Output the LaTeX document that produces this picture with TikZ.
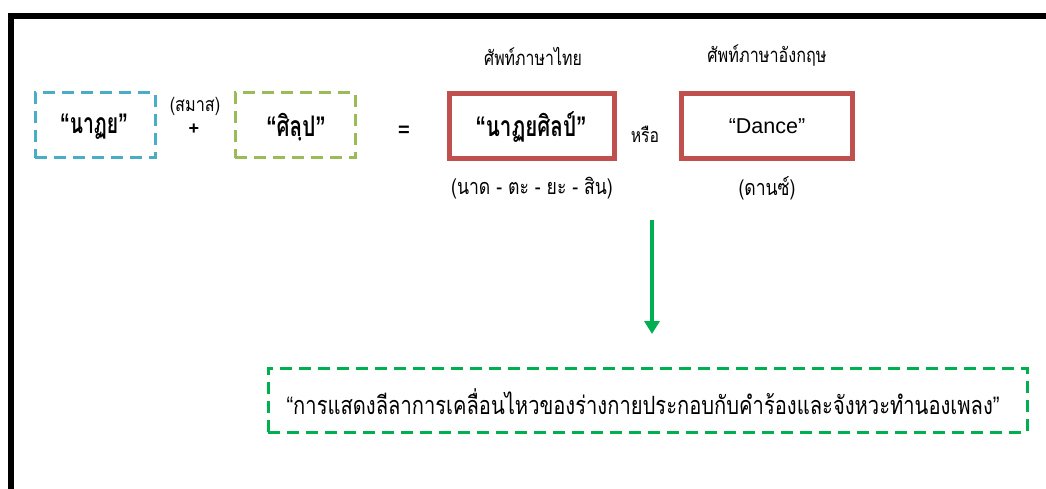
\documentclass[tikz,border=0pt]{standalone}
\usepackage{fontspec}
\setmainfont{Liberation Sans}
\newfontfamily\thai[Script=Thai]{Loma}
\usetikzlibrary{arrows.meta}
\definecolor{aqua}{HTML}{4BACC6}
\definecolor{olive}{HTML}{9BBB59}
\definecolor{brick}{HTML}{C0504D}
\definecolor{leaf}{HTML}{00B050}
% Thai text, stretched to a tall narrow cut
\newcommand\tsc[3]{\scalebox{#1}[#2]{#3}}
\newcommand\tq[1]{“{\thai #1}”}
\tikzset{
  dashbox/.style={draw=#1, line width=3pt, dash pattern=on 12pt off 7pt, minimum height=65pt, inner sep=0pt},
  wordbox/.style={draw=brick, line width=5pt, minimum width=165pt, minimum height=65pt, inner sep=0pt},
  lbl/.style={inner sep=0pt, font=\thai\fontsize{15}{18}\selectfont},
  big/.style={inner sep=0pt, font=\bfseries\fontsize{21}{24}\selectfont}
}
\begin{document}
\begin{tikzpicture}[x=1pt,y=-1pt]
\useasboundingbox (0,0) rectangle (1046,489);
% frame: top and left rules
\draw[line width=6pt] (1046,16) -- (11,16) -- (11,489);
% compound parts
\node[dashbox=aqua, minimum width=120pt] (naty) at (95,125.5) {};
\node[big] at (94,127) {\tsc{0.92}{1.35}{\tq{นาฏย}}};
\node[lbl] (samas) at (195,106) {\tsc{1.08}{1.3}{(สมาส)}};
\node[inner sep=0pt, font=\bfseries\fontsize{18}{20}\selectfont] (plus) at (194,129) {+};
\node[dashbox=olive, minimum width=120pt] (sin) at (295,125.5) {};
\node[big] at (296,127) {\tsc{0.98}{1.35}{\tq{ศิลฺป}}};
\node[inner sep=0pt, font=\bfseries\fontsize{20}{22}\selectfont] (eq) at (404,131) {=};
% resulting words
\node[wordbox] (thw) at (532,126) {};
\node[big] at (531,127) {\tsc{0.98}{1.35}{\tq{นาฏยศิลป์}}};
\node[wordbox, minimum width=171pt] (enw) at (767,126) {};
\node[inner sep=0pt, font=\fontsize{21.5}{24}\selectfont] at (enw) {“Dance”};
\node[lbl] (or) at (645,134) {\tsc{1.05}{1.3}{หรือ}};
\node[lbl] (thl) at (533,56) {\tsc{1.06}{1.35}{ศัพท์ภาษาไทย}};
\node[lbl] (enl) at (767,56) {\tsc{1.08}{1.35}{ศัพท์ภาษาอังกฤษ}};
\node[lbl, font=\thai\fontsize{16}{18}\selectfont] (thr) at (532,188) {\tsc{1.1}{1.35}{(นาด - ตะ - ยะ - สิน)}};
\node[lbl, font=\thai\fontsize{16}{18}\selectfont] (enr) at (767,188) {\tsc{1.1}{1.35}{(ดานซ์)}};
% meaning
\coordinate (atop) at (652,220);
\coordinate (abot) at (652,334);
\draw[draw=leaf, line width=3.5pt, -{Triangle[length=13pt,width=15pt]}] (atop) -- (abot);
\node[dashbox=leaf, minimum width=759pt, minimum height=64pt] (mean) at (647.5,400) {};
\node[inner sep=0pt, font=\fontsize{18}{20}\selectfont] at (643,402) {\tsc{1.12}{1.4}{\tq{การแสดงลีลาการเคลื่อนไหวของร่างกายประกอบกับคำร้องและจังหวะทำนองเพลง}}};
\end{tikzpicture}
\end{document}
